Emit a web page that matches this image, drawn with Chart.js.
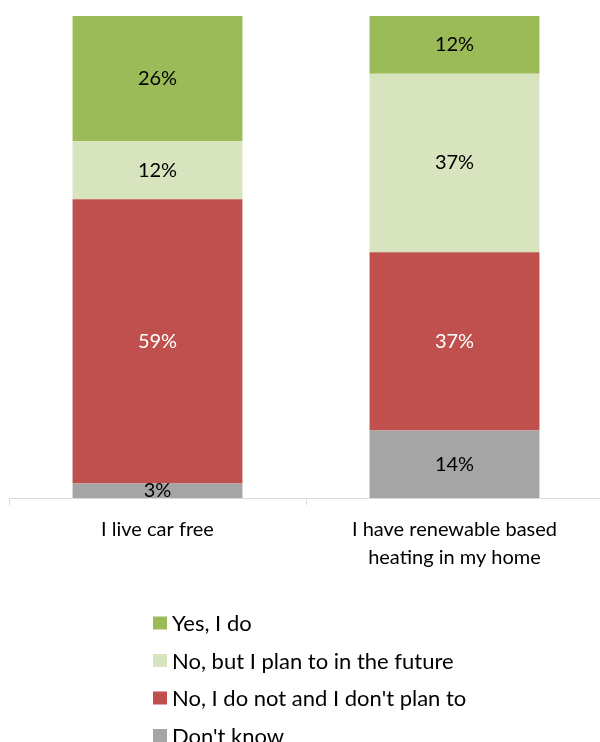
<!DOCTYPE html>
<html>
<head>
<meta charset="utf-8">
<script src="https://cdn.jsdelivr.net/npm/chart.js@4"></script>
<style>
html,body{margin:0;padding:0;background:#fff;overflow:hidden;}
#wrap{width:612px;height:742px;}
</style>
</head>
<body>
<div id="wrap"><canvas id="c" width="612" height="742"></canvas></div>
<script>
const categories = ['I live car free', ['I have renewable based', 'heating in my home']];
const seriesNames = ["Don't know", "No, I do not and I don't plan to", "No, but I plan to in the future", "Yes, I do"];
const dontKnow = [3, 14];
const noNoPlan = [59, 37];
const noButPlan = [12, 37];
const yesIDo = [26, 12];
const colors = ['#A5A5A5', '#C0504D', '#D7E4BD', '#9BBB59'];
const labelColors = ['#000000', '#FFFFFF', '#000000', '#000000'];
const FONT = 'Lato, "Open Sans", sans-serif';

const seriesValues = [dontKnow, noNoPlan, noButPlan, yesIDo];

const valueLabels = {
  id: 'valueLabels',
  afterDatasetsDraw(chart) {
    const ctx = chart.ctx;
    ctx.save();
    ctx.font = '20px ' + FONT;
    ctx.textAlign = 'center';
    ctx.textBaseline = 'middle';
    chart.data.datasets.forEach((ds, i) => {
      const meta = chart.getDatasetMeta(i);
      meta.data.forEach((bar, j) => {
        const v = ds.data[j];
        const yc = (bar.y + bar.base) / 2;
        ctx.fillStyle = labelColors[i];
        ctx.fillText(v + '%', bar.x, yc);
      });
    });
    ctx.restore();
  }
};

const vertLegend = {
  id: 'vertLegend',
  afterDraw(chart) {
    const ctx = chart.ctx;
    ctx.save();
    ctx.font = '22px ' + FONT;
    ctx.textAlign = 'left';
    ctx.textBaseline = 'middle';
    const n = chart.data.datasets.length;
    let y = 623;
    for (let k = n - 1; k >= 0; k--) {
      const ds = chart.data.datasets[k];
      ctx.fillStyle = ds.backgroundColor;
      ctx.fillRect(153, y - 6.5, 14, 13);
      ctx.fillStyle = '#000';
      ctx.fillText(ds.label, 172, y + 1);
      y += 37.5;
    }
    ctx.restore();
  }
};

new Chart(document.getElementById('c'), {
  type: 'bar',
  data: {
    labels: categories,
    datasets: seriesNames.map((name, i) => ({
      label: name,
      data: seriesValues[i],
      backgroundColor: colors[i],
      borderWidth: 0,
      barPercentage: 0.572,
      categoryPercentage: 1.0
    }))
  },
  options: {
    responsive: false,
    animation: false,
    layout: { padding: { left: 9, right: 9, top: 16, bottom: 159 } },
    plugins: {
      legend: { display: false },
      tooltip: { enabled: false }
    },
    scales: {
      x: {
        stacked: true,
        offset: true,
        border: { display: true, color: '#D9D9D9', width: 1 },
        grid: { display: true, drawOnChartArea: false, drawTicks: true, tickLength: 7, color: '#D9D9D9', offset: true },
        ticks: { color: '#000', font: { family: FONT, size: 20, lineHeight: 1.4 }, padding: 11, maxRotation: 0, autoSkip: false }
      },
      y: {
        stacked: true,
        display: false,
        min: 0,
        max: 100
      }
    }
  },
  plugins: [valueLabels, vertLegend]
});
</script>
</body>
</html>
